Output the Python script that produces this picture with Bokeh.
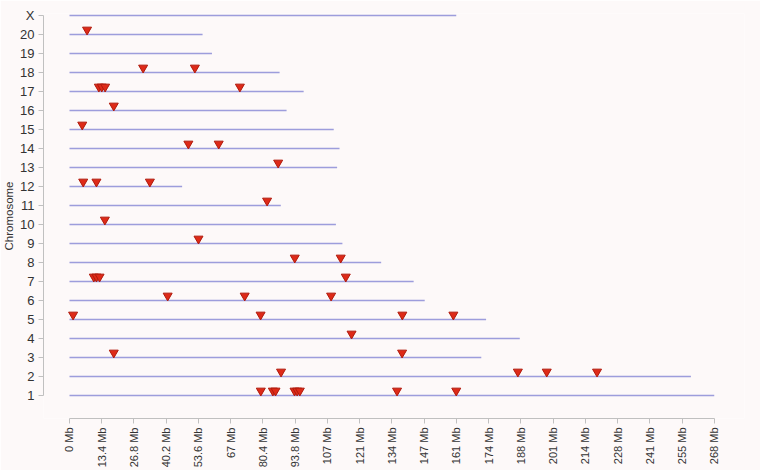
import numpy as np
from bokeh.plotting import figure
from bokeh.models import FixedTicker, Range1d, ColumnDataSource
from bokeh.embed import file_html
from bokeh.resources import INLINE

# ---- data ----
chromosomes = ["1", "2", "3", "4", "5", "6", "7", "8", "9", "10", "11", "12",
               "13", "14", "15", "16", "17", "18", "19", "20", "X"]
chrom_length_mb = [267.9, 258.2, 171.1, 187.1, 173.1, 147.6, 143.0, 129.5, 113.4,
                   110.7, 87.8, 46.8, 111.2, 112.2, 109.8, 90.2, 97.3, 87.3, 59.2,
                   55.3, 160.7]

marker_chrom = ["1", "1", "1", "1", "1", "1", "1", "1",
                "2", "2", "2", "2",
                "3", "3",
                "4",
                "5", "5", "5", "5",
                "6", "6", "6",
                "7", "7", "7", "7",
                "8", "8",
                "9",
                "10",
                "11",
                "12", "12", "12",
                "13",
                "14", "14",
                "15",
                "16",
                "17", "17", "17", "17",
                "18", "18",
                "20"]
marker_pos_mb = [79.5, 84.5, 85.6, 93.5, 94.6, 95.7, 136.1, 160.7,
                 87.9, 186.3, 198.3, 219.2,
                 18.4, 138.2,
                 117.2,
                 1.5, 79.4, 138.3, 159.5,
                 40.8, 72.8, 108.7,
                 10.1, 11.2, 12.5, 114.8,
                 93.6, 112.7,
                 53.6,
                 14.7,
                 82.1,
                 5.7, 11.2, 33.4,
                 86.7,
                 49.4, 62.0,
                 5.3,
                 18.4,
                 12.2, 13.4, 14.8, 70.8,
                 30.6, 52.1,
                 7.3]

x_tick_values = [0, 13.4, 26.8, 40.2, 53.6, 67, 80.4, 93.8, 107.2, 120.6, 134,
                 147.4, 160.8, 174.2, 187.6, 201, 214.4, 227.8, 241.2, 254.6, 268]
x_tick_labels = ["0 Mb", "13.4 Mb", "26.8 Mb", "40.2 Mb", "53.6 Mb", "67 Mb",
                 "80.4 Mb", "93.8 Mb", "107 Mb", "121 Mb", "134 Mb", "147 Mb",
                 "161 Mb", "174 Mb", "188 Mb", "201 Mb", "214 Mb", "228 Mb",
                 "241 Mb", "255 Mb", "268 Mb"]

# ---- build ----
chrom_index = {c: i + 1 for i, c in enumerate(chromosomes)}
line_src = ColumnDataSource(dict(
    x0=[0.0] * len(chromosomes),
    x1=chrom_length_mb,
    y=[chrom_index[c] for c in chromosomes],
))
tri_src = ColumnDataSource(dict(
    x=marker_pos_mb,
    y=[chrom_index[c] + 0.25 for c in marker_chrom],
))

BG = "#fdf9f9"
FONT = "Liberation Sans"

p = figure(width=760, height=470, output_backend="svg", toolbar_location=None,
           x_range=Range1d(-10.8, 280.47), y_range=Range1d(-0.2105, 21.105),
           min_border_left=43, min_border_right=16, min_border_top=13,
           min_border_bottom=52)
p.background_fill_color = BG
p.border_fill_color = BG
p.outline_line_color = None
p.xgrid.grid_line_color = None
p.ygrid.grid_line_color = None

p.segment(x0="x0", y0="y", x1="x1", y1="y", source=line_src,
          line_color="#9d9ddc", line_width=1.3)
p.scatter(x="x", y="y", source=tri_src, marker="inverted_triangle", size=9,
          fill_color="#de2a18", line_color="#b01a0c", line_width=1)

# x axis
xa = p.xaxis[0]
xa.ticker = FixedTicker(ticks=x_tick_values)
xa.major_label_overrides = {v: l for v, l in zip(x_tick_values, x_tick_labels)}
xa.bounds = (0, 268)
xa.major_label_orientation = np.pi / 2
xa.minor_tick_line_color = None
xa.major_tick_in = 0
xa.major_tick_out = 5
xa.major_label_standoff = 4
xa.axis_line_color = "#c0c0c0"
xa.major_tick_line_color = "#c0c0c0"
xa.major_label_text_font = FONT
xa.major_label_text_font_size = "11px"
xa.major_label_text_color = "#333333"

# y axis
ya = p.yaxis[0]
ya.ticker = FixedTicker(ticks=list(range(1, len(chromosomes) + 1)))
ya.major_label_overrides = {chrom_index[c]: c for c in chromosomes}
ya.bounds = (1, len(chromosomes))
ya.minor_tick_line_color = None
ya.major_tick_in = 0
ya.major_tick_out = 5
ya.major_label_standoff = 4
ya.axis_line_color = "#c0c0c0"
ya.major_tick_line_color = "#c0c0c0"
ya.major_label_text_font = FONT
ya.major_label_text_font_size = "13px"
ya.major_label_text_color = "#333333"
ya.axis_label = "Chromosome"
ya.axis_label_standoff = 2
ya.axis_label_text_font = FONT
ya.axis_label_text_font_size = "11.5px"
ya.axis_label_text_font_style = "normal"
ya.axis_label_text_color = "#333333"

open("out.html", "w").write(file_html(p, INLINE))
